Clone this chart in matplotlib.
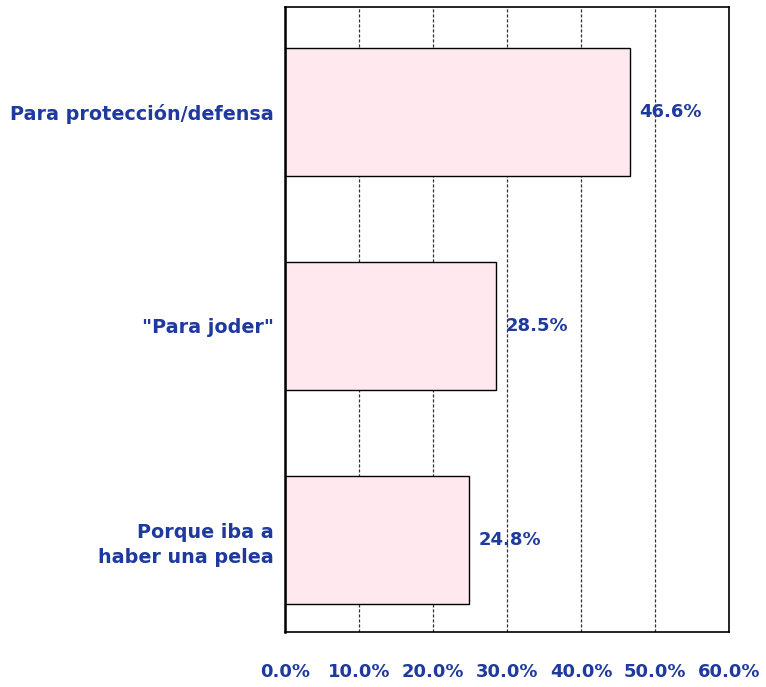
import matplotlib.pyplot as plt
from matplotlib.ticker import FuncFormatter

categorias = ['Para protección/defensa', '"Para joder"', 'Porque iba a\nhaber una pelea']
valores = [46.6, 28.5, 24.8]
ticks = [0, 10, 20, 30, 40, 50, 60]

azul = '#1F3A9E'
plt.rcParams['font.family'] = ['DejaVu Sans']

fig, ax = plt.subplots(figsize=(7.66, 6.87), dpi=100)
fig.subplots_adjust(left=285/766, right=729/766, top=1-7/687, bottom=1-632/687)

pos = list(range(len(categorias)))
ax.barh(pos, valores, height=0.6, color='#FFE8EE', edgecolor='black', linewidth=1, zorder=2)

for p, v in zip(pos, valores):
    ax.text(v + 1.3, p, f'{v:.1f}%', va='center', ha='left', color=azul,
            fontsize=13, fontweight='bold', zorder=3)

ax.set_xlim(0, 60)
ax.set_ylim(2.43, -0.49)
ax.set_xticks(ticks)
ax.xaxis.set_major_formatter(FuncFormatter(lambda x, _: f'{x:.1f}%'))
ax.set_yticks(pos)
ax.set_yticklabels(categorias, ha='right', multialignment='right', linespacing=1.4)
ax.tick_params(axis='both', length=0, labelcolor=azul)
ax.tick_params(axis='x', pad=22, labelsize=13)
ax.tick_params(axis='y', pad=8, labelsize=13.8)
for lab in ax.get_xticklabels() + ax.get_yticklabels():
    lab.set_fontweight('bold')

ax.grid(axis='x', linestyle='--', color='#333333', linewidth=0.9, dashes=(2.5, 1.5), zorder=1)
ax.set_axisbelow(True)
for s in ax.spines.values():
    s.set_linewidth(1.2)
ax.spines['left'].set_linewidth(1.8)

fig.savefig('out.png', dpi=100)
